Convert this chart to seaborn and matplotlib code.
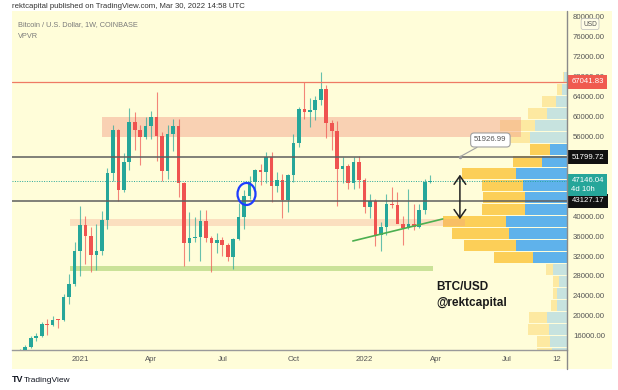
import numpy as np
import pandas as pd
import matplotlib
matplotlib.use("Agg")
import matplotlib.pyplot as plt
import matplotlib.dates as mdates
from matplotlib.colors import to_rgba
from matplotlib.lines import Line2D
from matplotlib.patches import Ellipse, Rectangle
import seaborn as sns

# --- weekly BTC/USD candles (Coinbase) ---
FIRST_WEEK = "2020-10-12"
OPEN = [11370, 11500, 13030, 13780, 15480, 15960, 18400, 18180, 19150, 19140,
        23800, 26470, 33000, 38200, 36000, 32300, 33100, 39250, 48600, 57400,
        45200, 50950, 59000, 57300, 55800, 58200, 60000, 56200, 49100, 56600,
        58200, 46700, 34700, 35700, 35800, 39100, 35600, 34700, 35300, 34250,
        31800, 35400, 39850, 44000, 46900, 49300, 48800, 51800, 46000, 47300,
        43200, 48200, 54700, 61500, 60900, 61300, 63300, 65500, 58700, 57200,
        49400, 50100, 46700, 50800, 47300, 41800, 43100, 36300, 37900, 42400,
        42200, 38400, 37700, 38400, 37800, 41300, 46850]
HIGH = [11740, 13350, 14100, 15970, 16480, 18800, 19420, 19920, 19420, 24280,
        28400, 34800, 41950, 40100, 37850, 38500, 40950, 49700, 58350, 57500,
        52600, 61800, 60900, 58400, 60000, 61200, 64850, 57000, 58400, 59500,
        59600, 46800, 40800, 39900, 41300, 41300, 36000, 36600, 35900, 34600,
        35600, 42600, 45300, 48100, 49500, 50500, 52900, 52900, 48800, 48400,
        48400, 56600, 62000, 67000, 63700, 64200, 69000, 66300, 59400, 59200,
        51900, 50500, 51900, 52100, 47600, 44500, 43500, 38900, 44500, 45800,
        44800, 40000, 45400, 42500, 42400, 47500, 48200]
LOW = [11180, 11400, 12980, 13530, 14840, 15800, 16200, 18000, 17600, 19000,
       22400, 25900, 28000, 30400, 28800, 29250, 32300, 37400, 47000, 43000,
       44900, 49300, 53300, 50300, 55500, 55500, 51000, 47000, 47500, 53000,
       43800, 30000, 31100, 34900, 31000, 34800, 28800, 32700, 32100, 31100,
       29300, 35200, 37500, 43500, 43900, 46300, 46700, 42800, 44800, 39600,
       40800, 46900, 53900, 59600, 58000, 59400, 62300, 55600, 53300, 42000,
       46700, 45500, 45500, 45700, 40600, 39600, 34000, 32950, 36200, 41700,
       39500, 34300, 37500, 37200, 37600, 40500, 46600]
CLOSE = [11500, 13030, 13780, 15480, 15960, 18400, 18180, 19150, 19140, 23800,
         26470, 33000, 38200, 36000, 32300, 33100, 39250, 48600, 57400, 45200,
         50950, 59000, 57300, 55800, 58200, 60000, 56200, 49100, 56600, 58200,
         46700, 34700, 35700, 35800, 39100, 35600, 34700, 35300, 34250, 31800,
         35400, 39850, 44000, 46900, 49300, 48800, 51800, 46000, 47300, 43200,
         48200, 54700, 61500, 60900, 61300, 63300, 65500, 58700, 57200, 49400,
         50100, 46700, 50800, 47300, 41800, 43100, 36300, 37900, 42400, 42200,
         38400, 37700, 38400, 37800, 41300, 46850, 47146]

# --- VPVR rows (price bin lower edges) and up / down volume ---
VP_ROW_LOW = [11200, 13610, 16020, 18430, 20840, 23250, 25660, 28070,
              30480, 32890, 35300, 37710, 40120, 42530, 44940, 47350,
              49760, 52170, 54580, 56990, 59400, 61810, 64220, 66630]
VP_ROW_SIZE = 2410
VP_UP = [15, 17, 18, 20, 10, 10, 8, 14, 34, 51, 58, 61, 42, 42, 44, 51,
         25, 17, 37, 32, 20, 11, 5, 3]
VP_DOWN = [15, 13, 21, 18, 6, 4, 6, 7, 39, 52, 57, 63, 43, 42, 41, 54,
           29, 20, 30, 35, 19, 14, 5, 1]
VALUE_AREA_ROWS = range(8, 18)

# --- levels / annotations ---
LAST_PRICE = 47146.04
ATH_LEVEL = 67041.83
RES_LEVEL = 51799.72
SUP_LEVEL = 43127.17
CALLOUT_PRICE = 51926.99
# 44000 / 48000 / 52000 sit under the price tags on the scale
PRICE_TICKS = [16000, 20000, 24000, 28000, 32000, 36000, 40000,
               56000, 60000, 64000, 68000, 72000, 76000, 80000]
TIME_TICKS = ["2021-01-04", "2021-04-05", "2021-07-05", "2021-10-04",
              "2022-01-03", "2022-04-04", "2022-07-04", "2022-09-12"]
TIME_LABELS = ["2021", "Apr", "Jul", "Oct", "2022", "Apr", "Jul", "12"]
TREND_DATES = ["2021-12-19", "2022-04-13"]
TREND_PRICES = [35020, 39440]

BG = "#FFFDD9"
UP_C = "#26A69A"
DN_C = "#EF5350"

sns.set_theme(style="white")
plt.rcParams["font.family"] = ["Liberation Sans", "DejaVu Sans"]

W, H = 618, 390
fig = plt.figure(figsize=(W / 100, H / 100), dpi=100)
fig.patch.set_facecolor("white")


def px_rect(x0, y0, x1, y1):
    # pixel box (origin top-left) -> figure fraction rect
    return [x0 / W, 1 - y1 / H, (x1 - x0) / W, (y1 - y0) / H]


def dn(s):
    return mdates.date2num(pd.Timestamp(s))


# chart panel background (includes price + time scale)
fig.patches.append(Rectangle((12 / W, 1 - 369 / H), 600 / W, 358 / H,
                             transform=fig.transFigure, facecolor=BG,
                             edgecolor="none", zorder=-10))

ax_vp = fig.add_axes(px_rect(12, 11, 567, 350))
ax = fig.add_axes(px_rect(12, 11, 567, 350), sharey=ax_vp)
ax.patch.set_visible(False)

# ---- volume profile (anchored to right edge) ----
rows = np.arange(len(VP_ROW_LOW))
centers = np.array(VP_ROW_LOW) + VP_ROW_SIZE / 2
in_va = np.isin(rows, list(VALUE_AREA_ROWS))
up_cols = [to_rgba("#2196F3", 0.72) if v else to_rgba("#2196F3", 0.25) for v in in_va]
dn_cols = [to_rgba("#FBC02D", 0.75) if v else to_rgba("#FBC02D", 0.32) for v in in_va]
ax_vp.barh(centers, VP_UP, height=VP_ROW_SIZE * 0.9, left=0, color=up_cols, lw=0)
ax_vp.barh(centers, VP_DOWN, height=VP_ROW_SIZE * 0.9, left=VP_UP, color=dn_cols, lw=0)
vp_max = max(u + d for u, d in zip(VP_UP, VP_DOWN))
ax_vp.set_xlim(vp_max / 0.223, 0)
ax_vp.axis("off")

# ---- zones ----
ax.fill_between([dn("2021-02-01"), dn("2022-07-22")], 55840, 59980,
                color="#F29C85", alpha=0.45, lw=0, zorder=1)
ax.fill_between([dn("2020-12-22"), dn("2022-05-12")], 38090, 39440,
                color="#F29C85", alpha=0.3, lw=0, zorder=1)
ax.fill_between([dn("2020-12-22"), dn("2022-04-01")], 29000, 30060,
                color="#8BC34A", alpha=0.45, lw=0, zorder=1)

# ---- candles ----
dates = pd.date_range(FIRST_WEEK, periods=len(OPEN), freq="7D")
xd = mdates.date2num(dates)
o, h, l, c = map(np.array, (OPEN, HIGH, LOW, CLOSE))
cols = np.where(c >= o, UP_C, DN_C)
ax.vlines(xd, l, h, colors=cols, lw=0.8, alpha=0.7, zorder=3)
ax.bar(xd, np.maximum(np.abs(c - o), 180), bottom=np.minimum(o, c), width=4.6,
       color=cols, lw=0, zorder=4)

# ---- horizontal levels ----
ax.axhline(ATH_LEVEL, color="#EF7A64", lw=0.9, zorder=5)
ax.axhline(RES_LEVEL, color="#5E5E5E", lw=1.1, zorder=5)
ax.axhline(SUP_LEVEL, color="#5E5E5E", lw=1.1, zorder=5)
ax.axhline(LAST_PRICE, color=UP_C, lw=0.7, ls=(0, (1, 1.5)), zorder=5)

# trend line
sns.lineplot(x=[dn(d) for d in TREND_DATES], y=TREND_PRICES, ax=ax,
             color="#4CAF50", lw=1.2, zorder=6)

# blue circle
ax.add_patch(Ellipse((dn("2021-08-05"), 44460), width=23, height=4420,
                     fill=False, ec="#1F3DFF", lw=1.6, zorder=7))

# double arrow
ax.annotate("", xy=(dn("2022-05-05"), 38840), xytext=(dn("2022-05-05"), 48900),
            arrowprops=dict(arrowstyle="<->,head_length=0.5,head_width=0.35",
                            color="#222222", lw=1.1), zorder=7)

# price callout
ax.plot([dn("2022-05-05")], [CALLOUT_PRICE], marker="o", ms=1.5, color="#999999", zorder=7)
ax.annotate(f"{CALLOUT_PRICE:.2f}", xy=(dn("2022-05-05"), CALLOUT_PRICE),
            xytext=(dn("2022-06-13"), 55300), ha="center", va="center",
            fontsize=5.6, color="#555555", zorder=8,
            bbox=dict(boxstyle="round,pad=0.45", fc="white", ec="#A0A0A0", lw=0.8),
            arrowprops=dict(arrowstyle="-", color="#A0A0A0", lw=0.8,
                            shrinkA=0, shrinkB=0))

# author labels
ax.text(dn("2022-04-05"), 25780, "BTC/USD", fontsize=8.5, fontweight="bold",
        color="#1A1A1A", va="center", ha="left", zorder=8)
ax.text(dn("2022-04-05"), 22570, "@rektcapital", fontsize=8.5, fontweight="bold",
        color="#1A1A1A", va="center", ha="left", zorder=8)

# ---- axes ----
ax.set_xlim(dn("2020-10-09"), dn("2022-09-19"))
ax.set_ylim(13130, 81200)
ax.yaxis.tick_right()
ax.set_yticks(PRICE_TICKS)
ax.set_yticklabels([f"{v:.2f}" for v in PRICE_TICKS])
ax.set_xticks([dn(d) for d in TIME_TICKS])
ax.set_xticklabels(TIME_LABELS)
ax.get_xticklabels()[-1].set_ha("right")
ax.tick_params(axis="y", length=0, pad=4.3, labelsize=5.6, labelcolor="#555555")
ax.tick_params(axis="x", length=0, pad=4.0, labelsize=5.6, labelcolor="#555555")
ax.set_xlabel("")
ax.set_ylabel("")
ax.grid(False)
for side in ["top", "left", "right"]:
    ax.spines[side].set_visible(False)
ax.spines["bottom"].set_color("#9A9A9A")
ax.spines["bottom"].set_linewidth(1.0)
fig.lines.append(Line2D([567 / W, 567 / W], [1 - 11 / H, 1 - 369 / H],
                        transform=fig.transFigure, color="#8A8A8A", lw=1.0))

# price scale labels
def price_tag(price, text, fc, dy=0.0):
    ax.annotate(text, xy=(1, price), xycoords=("axes fraction", "data"),
                xytext=(3.2, dy), textcoords="offset points", ha="left", va="center",
                fontsize=5.6, color="white", annotation_clip=False, zorder=9,
                linespacing=1.25,
                bbox=dict(boxstyle="square,pad=0.45", fc=fc, ec="none"))


price_tag(ATH_LEVEL, f"{ATH_LEVEL:.2f}", "#F05A4F")
price_tag(RES_LEVEL, f"{RES_LEVEL:.2f}", "#111111")
price_tag(SUP_LEVEL, f"{SUP_LEVEL:.2f}", "#111111")
price_tag(LAST_PRICE, f"{LAST_PRICE:.2f}\n4d 10h", "#26A69A", dy=-3.2)

ax.annotate("USD", xy=(1, 1), xycoords="axes fraction", xytext=(16.6, -9.4),
            textcoords="offset points", ha="center", va="center", fontsize=4.8,
            color="#555555", annotation_clip=False, zorder=9,
            bbox=dict(boxstyle="round,pad=0.3", fc="#FFFDE6", ec="#BBBBBB", lw=0.5))

# header / legend / footer
fig.text(12 / W, 1 - 7 / H, "rektcapital published on TradingView.com, Mar 30, 2022 14:58 UTC",
         fontsize=5.6, color="#333333", va="center")
fig.text(18 / W, 1 - 25 / H, "Bitcoin / U.S. Dollar, 1W, COINBASE",
         fontsize=5.3, color="#7A7A7A", va="center")
fig.text(18 / W, 1 - 37 / H, "VPVR", fontsize=5.3, color="#7A7A7A", va="center")
fig.text(12 / W, 1 - 380 / H, "TV", fontsize=6.5, fontweight="bold", color="#131722", va="center")
fig.text(24 / W, 1 - 380 / H, "TradingView", fontsize=6.0, color="#131722", va="center")

fig.savefig("out.png", dpi=100)
